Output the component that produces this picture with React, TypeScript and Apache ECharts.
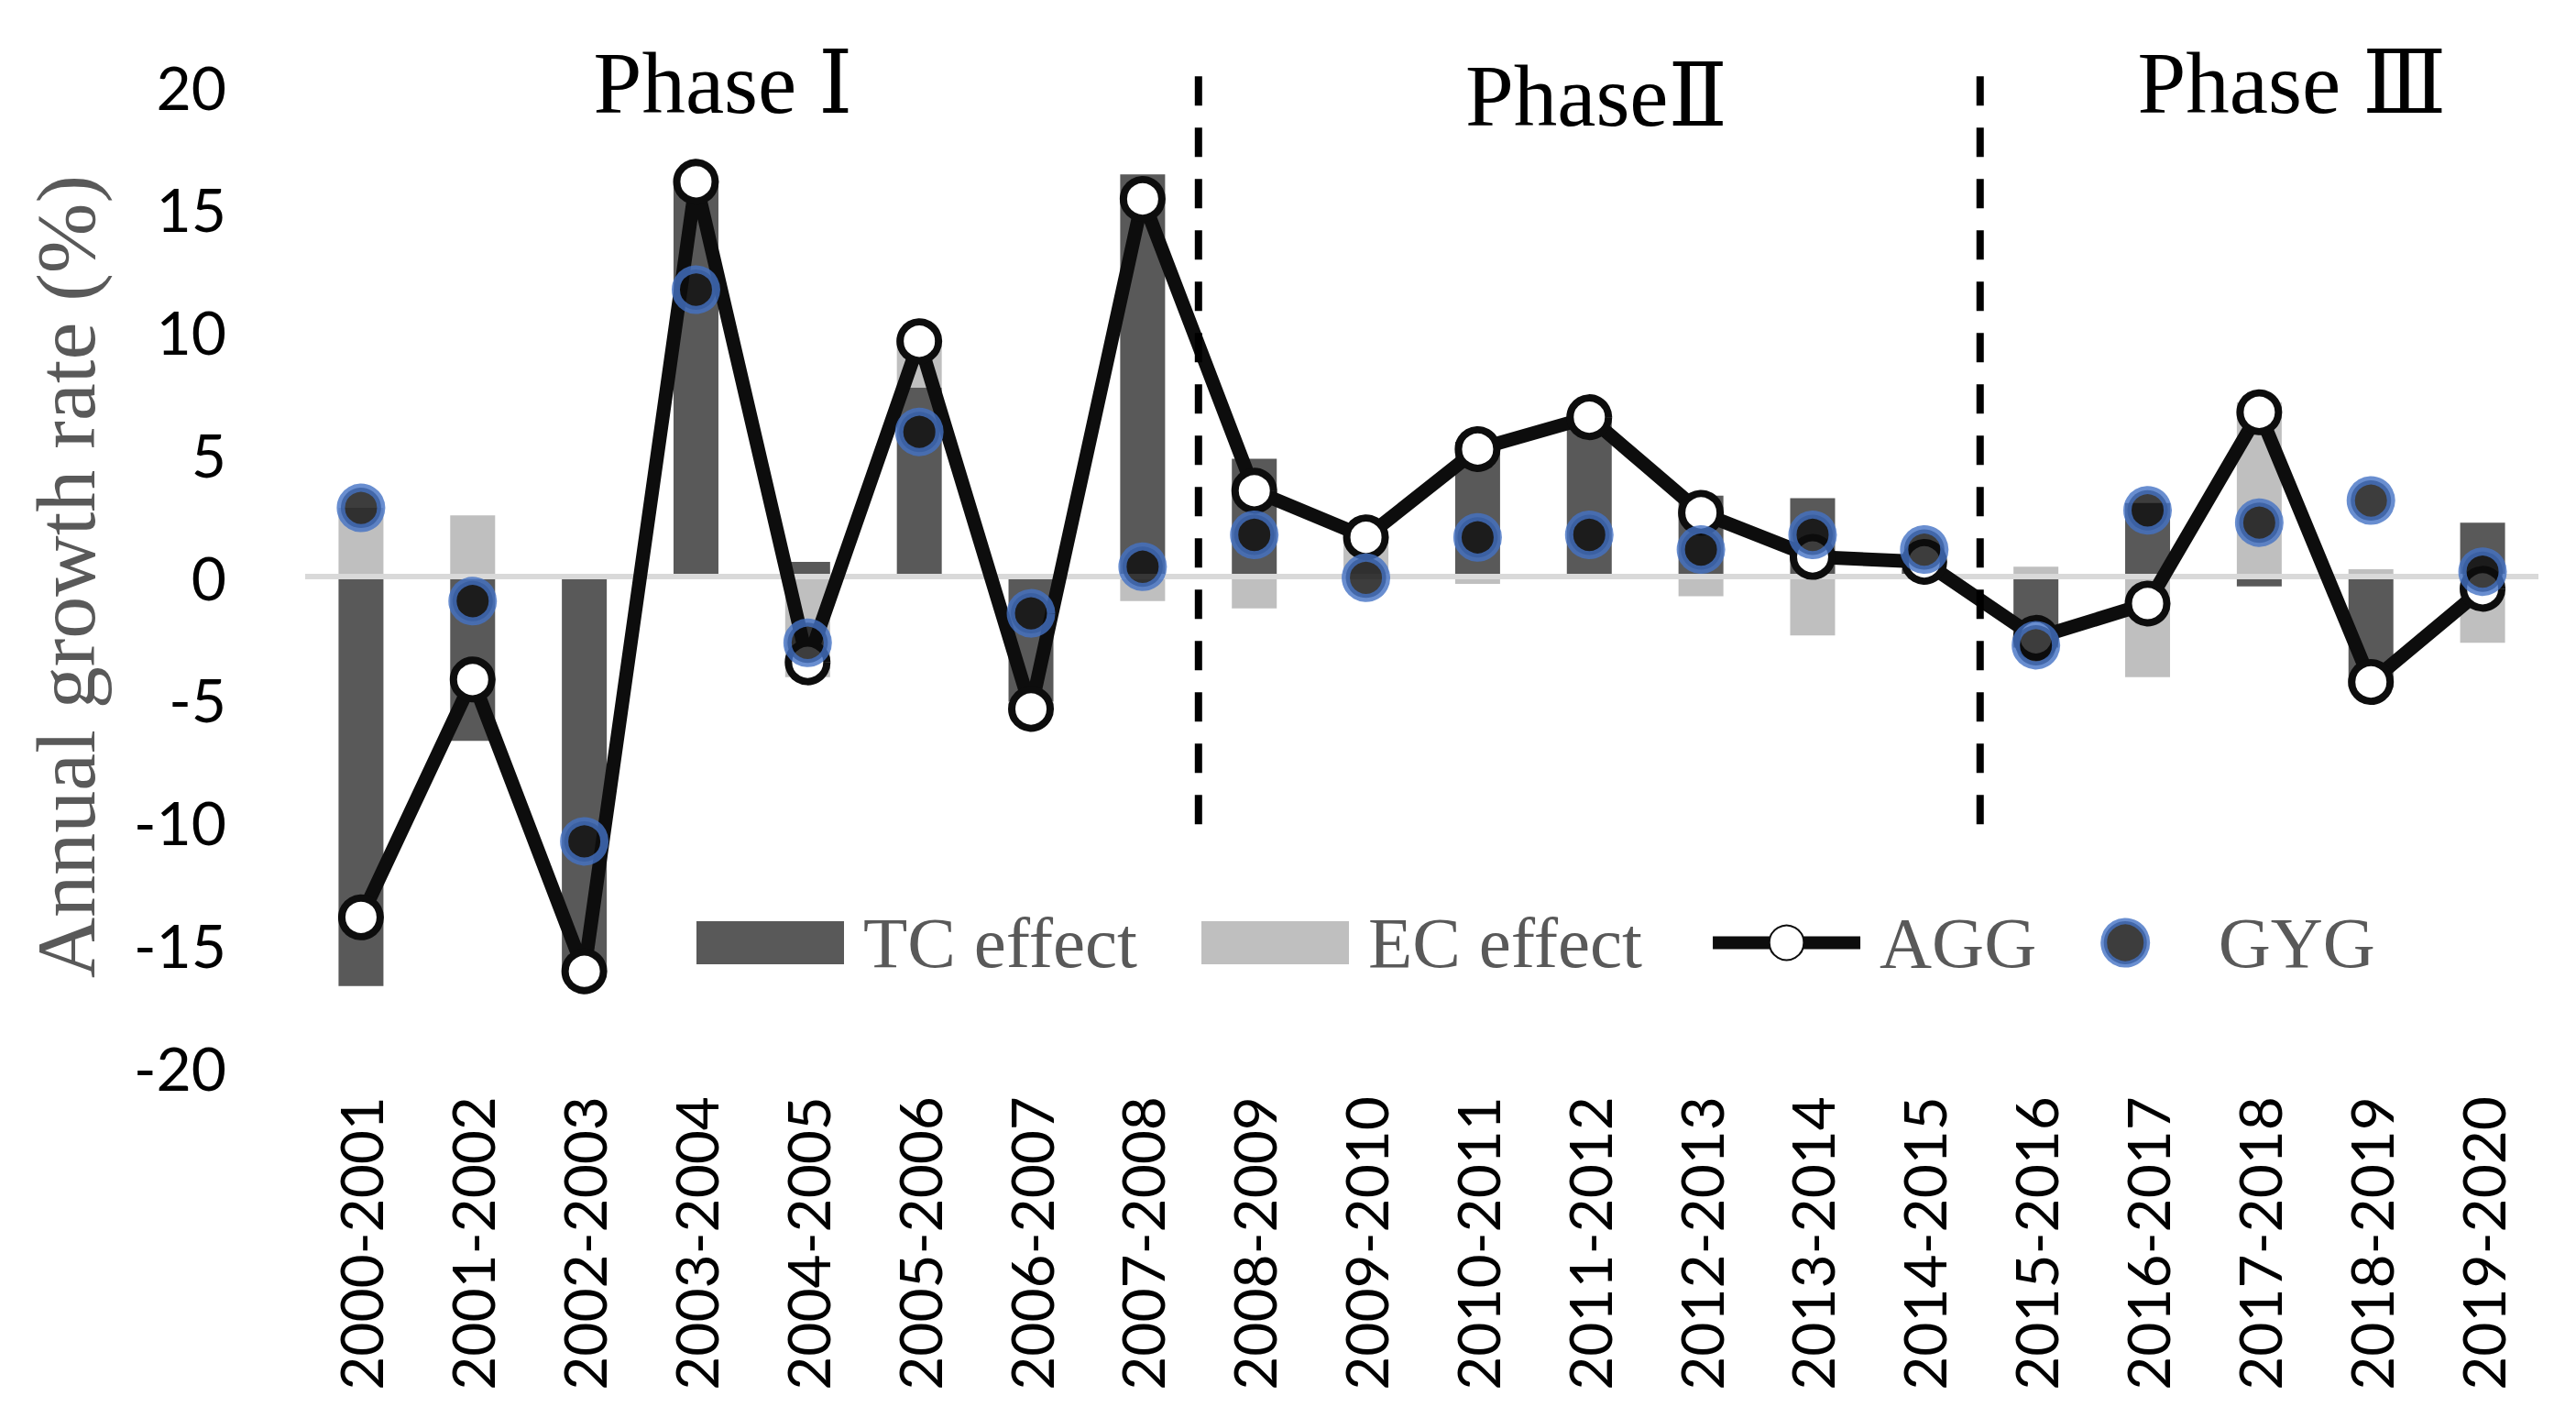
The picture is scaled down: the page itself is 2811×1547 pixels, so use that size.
import React, { useEffect, useRef } from "react";
import * as echarts from "echarts";

const categories = [
  "2000-2001", "2001-2002", "2002-2003", "2003-2004", "2004-2005",
  "2005-2006", "2006-2007", "2007-2008", "2008-2009", "2009-2010",
  "2010-2011", "2011-2012", "2012-2013", "2013-2014", "2014-2015",
  "2015-2016", "2016-2017", "2017-2018", "2018-2019", "2019-2020",
];

// technical change effect (dark bars)
const tcEffect = [
  -16.7, -6.7, -16.0, 16.1, 0.6, 7.7, -5.1, 16.4, 4.8, 0.1,
  5.5, 6.5, 3.3, 3.2, 0.3, -2.9, 3.0, -0.4, -4.5, 2.2,
];
// efficiency change effect (light bars)
const ecEffect = [
  2.8, 2.5, -0.1, 0.0, -4.1, 1.9, -0.3, -1.0, -1.3, 1.5,
  -0.3, 0.0, -0.8, -2.4, 0.3, 0.4, -4.1, 7.1, 0.3, -2.7,
];
const agg = [
  -13.9, -4.2, -16.1, 16.1, -3.5, 9.6, -5.4, 15.4, 3.5, 1.6,
  5.2, 6.5, 2.6, 0.8, 0.6, -2.5, -1.1, 6.7, -4.3, -0.5,
];
const gyg = [
  2.8, -1.0, -10.8, 11.7, -2.7, 5.9, -1.5, 0.4, 1.7, -0.05,
  1.6, 1.7, 1.1, 1.7, 1.1, -2.8, 2.7, 2.2, 3.1, 0.2,
];

const yTicks = { min: -20, max: 20, interval: 5 };

// phase boundaries sit between these category pairs
const phaseBreaks = [7, 14];
const breakRange = [20.4, -10.8];

const App: React.FC = () => {
  const chartRef = useRef<HTMLDivElement>(null);

  useEffect(() => {
    document.body.style.margin = "0";
    if (!chartRef.current) return;

    const chart = echarts.init(chartRef.current, undefined, { renderer: "svg" });

    const serif = "'Liberation Serif', 'DejaVu Serif', serif";
    const sans = "Lato, 'Open Sans', sans-serif";

    const option: echarts.EChartsOption = {
      animation: false,
      backgroundColor: "#ffffff",
      grid: { left: 333, right: 41, top: 94, bottom: 383 },
      legend: {
        left: 755,
        top: 984,
        itemWidth: 161,
        itemHeight: 47,
        itemGap: 70,
        textStyle: {
          fontFamily: serif,
          fontSize: 79,
          color: "#595959",
          padding: [0, 0, 0, 16],
        },
        data: [
          { name: "TC effect", icon: "rect" },
          { name: "EC effect", icon: "rect" },
          { name: "AGG", lineStyle: { width: 14, color: "#0d0d0d" } } as any,
          {
            name: "GYG",
            icon: "circle",
            itemStyle: { color: "#0d0d0d", borderColor: "#4472c4", borderWidth: 7 },
          } as any,
        ],
      },
      xAxis: {
        type: "category",
        data: categories,
        axisLine: { show: false, onZero: false },
        axisTick: { show: false },
        axisLabel: {
          interval: 0,
          rotate: 90,
          margin: 32,
          fontFamily: sans,
          fontSize: 64,
          color: "#000000",
        },
      },
      yAxis: {
        type: "value",
        min: yTicks.min,
        max: yTicks.max,
        interval: yTicks.interval,
        name: "Annual growth rate (%)",
        nameLocation: "middle",
        nameGap: 215,
        nameTextStyle: { fontFamily: serif, fontSize: 92, color: "#595959" },
        axisLine: { show: false },
        axisTick: { show: false },
        splitLine: { show: false },
        axisLabel: {
          margin: 86,
          fontFamily: sans,
          fontSize: 66,
          color: "#000000",
        },
      },
      series: [
        {
          name: "TC effect",
          type: "bar",
          stack: "effect",
          barWidth: 49,
          itemStyle: { color: "#595959" },
          data: tcEffect,
        },
        {
          name: "EC effect",
          type: "bar",
          stack: "effect",
          barWidth: 49,
          itemStyle: { color: "#bfbfbf" },
          data: ecEffect,
          markLine: {
            silent: true,
            symbol: "none",
            label: { show: false },
            lineStyle: { color: "#d9d9d9", width: 6, type: "solid" },
            data: [{ yAxis: 0 }],
          },
        },
        {
          name: "AGG",
          type: "line",
          z: 10,
          data: agg,
          symbol: "circle",
          symbolSize: 42,
          lineStyle: { color: "#0d0d0d", width: 15 },
          itemStyle: { color: "#ffffff", borderColor: "#0d0d0d", borderWidth: 8 },
        },
        {
          name: "GYG",
          type: "scatter",
          z: 11,
          data: gyg,
          symbol: "circle",
          symbolSize: 44,
          symbolKeepAspect: true,
          itemStyle: { color: "#0d0d0d", borderColor: "#4472c4", borderWidth: 9 },
        },
      ],
    };

    chart.setOption(option);

    // dashed phase separators, placed through the axes' own scales
    const lines = phaseBreaks.map((i) => {
      const a = chart.convertToPixel({ xAxisIndex: 0 }, i) as number;
      const b = chart.convertToPixel({ xAxisIndex: 0 }, i + 1) as number;
      const x = (a + b) / 2;
      const y1 = chart.convertToPixel({ yAxisIndex: 0 }, breakRange[0]) as number;
      const y2 = chart.convertToPixel({ yAxisIndex: 0 }, breakRange[1]) as number;
      return {
        type: "line" as const,
        z: 20,
        shape: { x1: x, y1, x2: x, y2 },
        style: { stroke: "#000000", lineWidth: 8, lineDash: [32, 24] },
      };
    });

    const phaseText = (text: string, x: number, y: number) => ({
      type: "text" as const,
      x,
      y,
      z: 20,
      style: {
        text,
        fontFamily: serif,
        fontSize: 95,
        fill: "#000000",
        textAlign: "center" as const,
        textVerticalAlign: "bottom" as const,
      },
    });

    chart.setOption({
      graphic: [
        ...lines,
        phaseText("Phase Ⅰ", 789, 138),
        phaseText("PhaseⅡ", 1742, 152),
        phaseText("Phase Ⅲ", 2501, 138),
      ],
    });

    const handleResize = () => chart.resize();
    window.addEventListener("resize", handleResize);
    return () => {
      window.removeEventListener("resize", handleResize);
      chart.dispose();
    };
  }, []);

  return <div ref={chartRef} style={{ width: "2811px", height: "1547px" }} />;
};

export default App;
